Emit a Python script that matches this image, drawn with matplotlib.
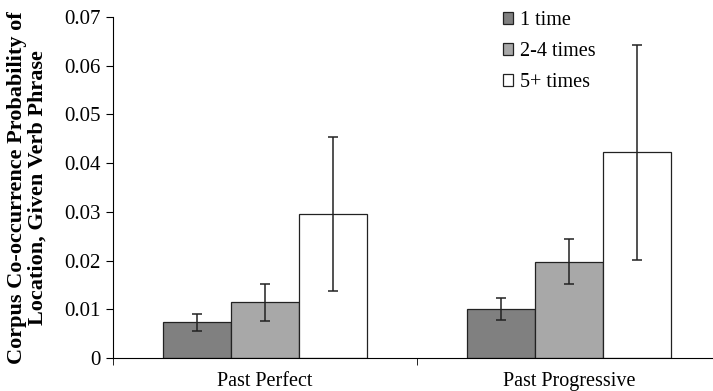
import matplotlib.pyplot as plt
import numpy as np

plt.rcParams['font.family'] = ['Liberation Serif', 'DejaVu Serif']

categories = ['Past Perfect', 'Past Progressive']
series = ['1 time', '2-4 times', '5+ times']
values = [
    [0.0073, 0.0101],
    [0.0114, 0.0198],
    [0.0296, 0.0422],
]
errors = [
    [0.0017, 0.0023],
    [0.0038, 0.0046],
    [0.0158, 0.0220],
]
colors = ['#808080', '#a8a8a8', '#ffffff']

fig = plt.figure(figsize=(7.13, 3.91), dpi=100)
ax = fig.add_axes([113 / 713, 1 - 358 / 391, 608 / 713, 341 / 391])

x = np.arange(len(categories))
w = 0.223
for i, name in enumerate(series):
    ax.bar(x + (i - 1) * w, values[i], w, yerr=errors[i], color=colors[i],
           edgecolor='#222222', linewidth=0.9, label=name,
           error_kw=dict(ecolor='#222222', elinewidth=1.1, capsize=3.5, capthick=1.1))

ax.set_xlim(-0.5, 1.5)
ax.set_ylim(0, 0.07)
ax.set_yticks(np.arange(0, 0.071, 0.01))
ax.set_yticklabels(['0'] + ['%.2f' % v for v in np.arange(0.01, 0.071, 0.01)])
ax.set_xticks(x)
ax.set_xticklabels(categories)
ax.set_xticks([-0.5, 0.5, 1.5], minor=True)
ax.tick_params(axis='x', which='major', length=0, labelsize=14.5, pad=10)
ax.tick_params(axis='x', which='minor', length=5, direction='out')
ax.tick_params(axis='y', length=5, direction='out', labelsize=15, pad=4)
for s in ['top', 'right']:
    ax.spines[s].set_visible(False)

ax.set_ylabel('Corpus Co-occurrence Probability of\nLocation, Given Verb Phrase',
              fontsize=16, fontweight='bold', labelpad=12, linespacing=1.0)

ax.legend(loc='upper left', bbox_to_anchor=(503 / 713, 1 - 11 / 391),
          bbox_transform=fig.transFigure, frameon=False, borderpad=0,
          borderaxespad=0, fontsize=14.5, handlelength=0.5, handleheight=0.5,
          labelspacing=0.6, handletextpad=0.35)

fig.savefig('out.png', dpi=100)
